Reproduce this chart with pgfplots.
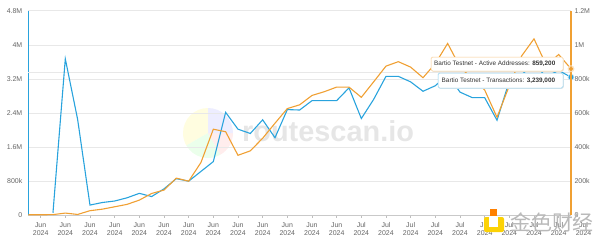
\documentclass[border=0pt]{standalone}
\usepackage{pgfplots}
\pgfplotsset{compat=1.18}
\usepackage{pgfplotstable}
\usepackage{fontspec}
\setmainfont{Liberation Sans}
\newfontfamily\cjk{Noto Sans CJK SC}
\definecolor{tblue}{HTML}{29A3DD}
\definecolor{torange}{HTML}{F0A033}
\definecolor{gridc}{HTML}{E8E8E8}
\definecolor{labc}{HTML}{666666}
\definecolor{wmgray}{HTML}{E6E6E6}

% Transactions (left axis)
\pgfplotstableread{
i tx
2 60000
3 3670000
4 2250000
5 240000
6 300000
7 335000
8 410000
9 515000
10 440000
11 620000
12 860000
13 800000
14 1030000
15 1260000
16 2415000
17 2020000
18 1920000
19 2240000
20 1820000
21 2480000
22 2470000
23 2690000
24 2690000
25 2690000
26 2990000
27 2270000
28 2720000
29 3260000
30 3260000
31 3130000
32 2910000
33 3040000
34 3300000
35 2890000
36 2760000
37 2760000
38 2230000
39 3150000
40 3300000
41 3550000
42 3250000
43 3400000
44 3239000
}\txdata

% Active addresses (right axis)
\pgfplotstableread{
i aa
0 3000
1 3000
2 4000
3 13000
4 5000
5 27000
6 36000
7 50000
8 64000
9 89000
10 128000
11 148000
12 218000
13 200000
14 310000
15 505000
16 490000
17 352000
18 378000
19 452000
20 540000
21 626000
22 648000
23 703000
24 725000
25 752000
26 752000
27 692000
28 783000
29 875000
30 901000
31 869000
32 807000
33 890000
34 1008000
35 870000
36 800000
37 735000
38 575000
39 760000
40 935000
41 1035000
42 880000
43 943000
44 859200
}\aadata

\begin{document}
\begin{tikzpicture}[x=1bp,y=1bp]
\path[use as bounding box] (0,0) rectangle (600,243);
% routescan watermark
\fill[yellow!12] (208,110) -- ++(90:25) arc (90:210:25) -- cycle;
\fill[green!8] (208,110) -- ++(210:25) arc (210:300:25) -- cycle;
\fill[red!7] (208,110) -- ++(300:25) arc (300:360:25) -- cycle;
\fill[blue!7] (208,110) -- ++(0:25) arc (0:90:25) -- cycle;
\node[text=wmgray, font=\fontsize{29}{30}\selectfont\bfseries, anchor=west, inner sep=0pt] at (242,112) {routescan.io};

\begin{axis}[
  at={(28.3bp,27.7bp)}, anchor=origin, scale only axis,
  width=542.7bp, height=204.6bp,
  xmin=0, xmax=44, ymin=0, ymax=4800000,
  clip=false,
  axis x line*=bottom, axis y line*=left,
  x axis line style={draw=gridc!70!gray, line width=0.6bp, -},
  y axis line style={draw=tblue, line width=1.3bp, -},
  xtick={1,3,...,43},
  xticklabels={{Jun\\2024},{Jun\\2024},{Jun\\2024},{Jun\\2024},{Jun\\2024},{Jun\\2024},{Jun\\2024},{Jun\\2024},{Jun\\2024},{Jun\\2024},{Jun\\2024},{Jun\\2024},{Jun\\2024},{Jul\\2024},{Jul\\2024},{Jul\\2024},{Jul\\2024},{Jul\\2024},{Jul\\2024},{Jul\\2024},{Jul\\2024},{Jul\\2024}},
  x tick label style={font=\fontsize{7}{8}\selectfont, text=labc, align=center, yshift=-1.5bp},
  x tick style={draw=gridc!60!gray, line width=0.5bp},
  tick align=outside, major tick length=2.5bp,
  ytick={0,800000,1600000,2400000,3200000,4000000,4800000},
  yticklabels={0,800k,1.6M,2.4M,3.2M,4M,4.8M},
  scaled y ticks=false,
  y tick label style={font=\fontsize{7}{8}\selectfont, text=labc},
  y tick style={draw=none},
  ymajorgrids, grid style={draw=gridc, line width=0.6bp},
  /pgf/number format/assume math mode=true,
]
\draw[gridc, line width=0.6bp] (axis cs:0,3360000) -- (axis cs:44,3360000);
\addplot[tblue, line width=1.1bp, mark=none] table[x=i, y=tx] {\txdata};
\addplot[only marks, mark=*, mark size=3.2bp, color=tblue!30] coordinates {(44,3239000)};
\addplot[only marks, mark=*, mark size=2.2bp, color=tblue] coordinates {(44,3239000)};
\end{axis}

\begin{axis}[
  at={(28.3bp,27.7bp)}, anchor=origin, scale only axis,
  width=542.7bp, height=204.6bp,
  xmin=0, xmax=44, ymin=0, ymax=1200000,
  clip=false,
  axis x line=none, axis y line*=right,
  y axis line style={draw=torange, line width=2bp, -},
  ytick={0,200000,400000,600000,800000,1000000,1200000},
  yticklabels={0,200k,400k,600k,800k,1M,1.2M},
  scaled y ticks=false,
  y tick label style={font=\fontsize{7}{8}\selectfont, text=labc},
  y tick style={draw=none},
  /pgf/number format/assume math mode=true,
]
\addplot[torange, line width=1.1bp, mark=none] table[x=i, y=aa] {\aadata};
\addplot[only marks, mark=*, mark size=3.2bp, color=torange!30] coordinates {(44,859200)};
\addplot[only marks, mark=diamond*, mark size=2.4bp, color=torange] coordinates {(44,859200)};
\end{axis}

% tooltips
\fill[black!8, rounded corners=1.5bp] (431.8,171.2) rectangle (563.8,185.2);
\draw[torange!55, fill=white, line width=0.5bp, rounded corners=1.5bp] (431,172) rectangle (563,186);
\node[anchor=west, inner sep=0pt, font=\fontsize{6.4}{7}\selectfont, text=black!80] at (434,179) {Bartio Testnet - Active Addresses: \textbf{859,200}};
\fill[black!8, rounded corners=1.5bp] (438.8,154.2) rectangle (563.8,169.2);
\draw[tblue!55, fill=white, line width=0.5bp, rounded corners=1.5bp] (438,155) rectangle (563,170);
\node[anchor=west, inner sep=0pt, font=\fontsize{6.4}{7}\selectfont, text=black!80] at (441.5,162.5) {Bartio Testnet - Transactions: \textbf{3,239,000}};

% extra tick label beyond the right axis
\node[font=\fontsize{7}{8}\selectfont, text=labc, align=center, anchor=north, inner sep=0pt] at (583.5,20.5) {Jul\\2024};

% jinse watermark
\fill[orange] (490,27) rectangle (497,34);
\fill[yellow!70!orange, rounded corners=2bp] (484,11) rectangle (504,26);
\fill[white] (489,16) rectangle (498,26);
\fill[yellow!70!orange] (484,16) rectangle (489,21);
\node[text=gray!55, font=\cjk\fontsize{21}{22}\selectfont, inner sep=0pt] at (552,21) {金色财经};
\end{tikzpicture}
\end{document}
